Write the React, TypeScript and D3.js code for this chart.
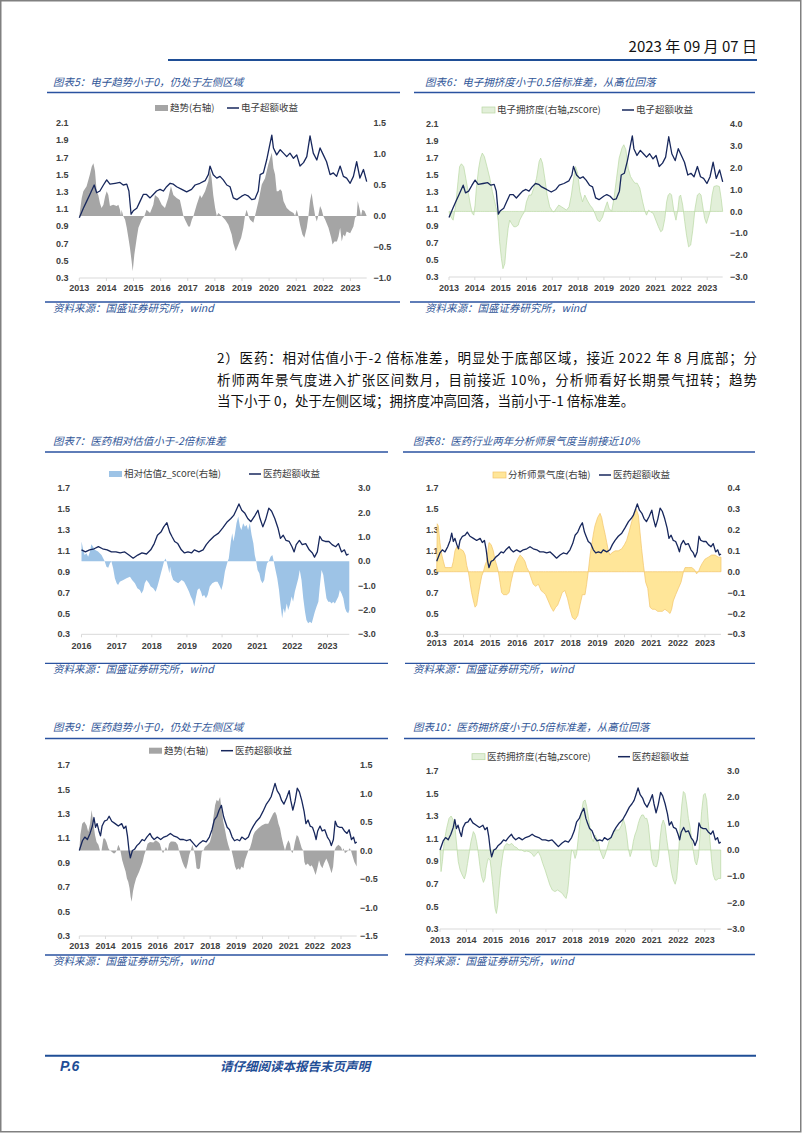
import React from 'react';
import * as d3 from 'd3';

type Pt = [number, number];

// ---------- data (x = decimal year, y = value) ----------
const ELEC_EXCESS: Pt[] = [[2013.00,1.00],[2013.15,1.11],[2013.27,1.19],[2013.39,1.27],[2013.55,1.38],[2013.64,1.29],[2013.76,1.31],[2013.89,1.38],[2014.01,1.44],[2014.13,1.39],[2014.32,1.40],[2014.50,1.41],[2014.62,1.38],[2014.75,1.39],[2014.83,1.31],[2014.91,1.04],[2014.99,1.08],[2015.12,1.11],[2015.24,1.19],[2015.36,1.27],[2015.48,1.27],[2015.61,1.23],[2015.73,1.27],[2015.85,1.31],[2015.98,1.33],[2016.10,1.31],[2016.22,1.36],[2016.35,1.40],[2016.47,1.39],[2016.59,1.36],[2016.78,1.33],[2016.96,1.30],[2017.14,1.33],[2017.27,1.38],[2017.45,1.40],[2017.64,1.43],[2017.76,1.50],[2017.82,1.60],[2017.94,1.50],[2018.07,1.46],[2018.19,1.48],[2018.31,1.44],[2018.44,1.38],[2018.56,1.36],[2018.68,1.23],[2018.81,1.21],[2018.99,1.25],[2019.11,1.27],[2019.24,1.25],[2019.36,1.21],[2019.48,1.22],[2019.60,1.31],[2019.67,1.50],[2019.79,1.52],[2019.91,1.67],[2020.04,1.87],[2020.10,1.96],[2020.16,1.81],[2020.28,1.73],[2020.41,1.79],[2020.53,1.75],[2020.65,1.71],[2020.77,1.75],[2020.90,1.69],[2021.02,1.73],[2021.14,1.60],[2021.27,1.64],[2021.39,1.71],[2021.51,1.95],[2021.63,1.75],[2021.76,1.67],[2021.88,1.81],[2022.00,1.73],[2022.12,1.65],[2022.25,1.50],[2022.37,1.52],[2022.49,1.48],[2022.62,1.60],[2022.74,1.48],[2022.86,1.46],[2022.99,1.40],[2023.11,1.48],[2023.23,1.65],[2023.35,1.46],[2023.48,1.56],[2023.60,1.42]];

const ELEC_TREND: Pt[] = [[2013.00,0],[2013.09,0.29],[2013.15,0.40],[2013.27,0.48],[2013.39,0.67],[2013.46,0.80],[2013.52,0.85],[2013.58,0.72],[2013.64,0.40],[2013.70,0.34],[2013.76,0.21],[2013.82,0.13],[2013.89,0.18],[2013.95,0.31],[2014.01,0.40],[2014.07,0.34],[2014.13,0.16],[2014.25,0.18],[2014.38,0.16],[2014.44,0.18],[2014.50,0.10],[2014.54,0],[2014.56,0.10],[2014.62,0],[2014.69,-0.06],[2014.75,-0.19],[2014.81,-0.35],[2014.87,-0.52],[2014.93,-0.73],[2014.97,-0.89],[2015.03,-0.62],[2015.12,-0.35],[2015.18,-0.19],[2015.30,-0.06],[2015.40,0],[2015.48,0.10],[2015.61,0.05],[2015.73,0.18],[2015.79,0.34],[2015.92,0.29],[2016.04,0.18],[2016.16,0.13],[2016.28,0.29],[2016.38,0.48],[2016.47,0.34],[2016.59,0.29],[2016.71,0.26],[2016.84,0],[2016.90,-0.06],[2017.02,-0.17],[2017.08,-0.17],[2017.15,-0.06],[2017.21,0],[2017.33,0.18],[2017.45,0.34],[2017.51,0.29],[2017.64,0.40],[2017.76,0.56],[2017.82,0.75],[2017.88,0.61],[2017.94,0.34],[2018.01,0.13],[2018.07,0],[2018.13,0.05],[2018.25,0],[2018.38,-0.06],[2018.50,-0.14],[2018.62,-0.30],[2018.68,-0.44],[2018.77,-0.57],[2018.87,-0.46],[2018.97,-0.35],[2019.05,-0.19],[2019.11,0],[2019.17,0.10],[2019.24,0],[2019.30,-0.06],[2019.42,-0.11],[2019.48,0],[2019.61,0.24],[2019.73,0.51],[2019.85,0.61],[2019.97,0.83],[2020.10,1.02],[2020.16,0.77],[2020.22,0.67],[2020.28,0.40],[2020.34,0.40],[2020.41,0.43],[2020.47,0.40],[2020.53,0.24],[2020.65,0.13],[2020.77,0.08],[2020.90,0.05],[2020.96,0],[2021.02,0.10],[2021.08,0],[2021.14,-0.14],[2021.23,-0.30],[2021.30,-0.35],[2021.39,-0.19],[2021.45,0],[2021.51,0.24],[2021.57,0.37],[2021.63,0.18],[2021.70,0],[2021.76,-0.09],[2021.82,0.02],[2021.88,0.16],[2021.94,0.10],[2022.00,0],[2022.07,-0.06],[2022.19,-0.19],[2022.29,-0.35],[2022.34,-0.46],[2022.41,-0.41],[2022.50,-0.41],[2022.56,-0.33],[2022.62,-0.19],[2022.68,-0.41],[2022.74,-0.30],[2022.80,-0.33],[2022.86,-0.25],[2022.99,-0.28],[2023.11,-0.17],[2023.17,-0.03],[2023.23,0],[2023.27,0.24],[2023.33,0.13],[2023.39,0],[2023.44,0.10],[2023.52,0.08],[2023.60,0]];

const ELEC_CROWD: Pt[] = [[2013.00,0],[2013.03,-0.17],[2013.16,-0.40],[2013.26,0.29],[2013.35,1.37],[2013.41,2.05],[2013.48,2.18],[2013.57,2.05],[2013.65,1.52],[2013.74,0.91],[2013.83,0.29],[2013.90,-0.09],[2013.96,-0.17],[2014.01,0.29],[2014.06,1.06],[2014.15,1.98],[2014.22,2.44],[2014.29,2.67],[2014.37,2.51],[2014.47,2.05],[2014.58,1.52],[2014.68,0.91],[2014.77,0.44],[2014.86,0],[2014.91,-0.47],[2014.96,-1.39],[2015.03,-2.16],[2015.09,-2.62],[2015.16,-2.39],[2015.22,-1.54],[2015.29,-0.78],[2015.35,-0.40],[2015.42,-0.55],[2015.51,-0.70],[2015.59,-0.70],[2015.68,-0.63],[2015.74,-0.40],[2015.84,-0.17],[2015.93,0],[2016.00,0.44],[2016.10,0.75],[2016.19,0.75],[2016.28,1.06],[2016.39,1.52],[2016.49,2.28],[2016.55,2.44],[2016.62,2.21],[2016.71,1.52],[2016.80,0.75],[2016.90,0.21],[2017.01,0],[2017.07,-0.02],[2017.16,0.14],[2017.25,0.29],[2017.36,0.21],[2017.45,0.14],[2017.55,0.06],[2017.65,0.21],[2017.74,0.75],[2017.83,1.52],[2017.90,2.05],[2017.98,1.75],[2018.07,0.91],[2018.17,0.44],[2018.26,0.75],[2018.35,0.52],[2018.46,0.29],[2018.56,0.14],[2018.65,-0.09],[2018.75,-0.40],[2018.84,-0.47],[2018.95,-0.25],[2019.04,0.14],[2019.13,0.44],[2019.20,0.14],[2019.30,0],[2019.39,0.60],[2019.49,1.52],[2019.59,2.44],[2019.70,2.90],[2019.77,3.05],[2019.85,2.82],[2019.94,1.98],[2020.03,1.60],[2020.11,1.44],[2020.20,1.29],[2020.29,1.29],[2020.39,1.06],[2020.50,0.44],[2020.59,0],[2020.65,-0.17],[2020.73,0.06],[2020.81,-0.02],[2020.91,-0.09],[2021.01,-0.40],[2021.11,-0.70],[2021.20,-0.93],[2021.27,-0.86],[2021.36,-0.32],[2021.43,0.44],[2021.49,0.75],[2021.56,0.83],[2021.62,0.75],[2021.71,0],[2021.79,-0.40],[2021.86,0.06],[2021.92,0.68],[2021.97,0.75],[2022.05,0.29],[2022.13,-0.47],[2022.20,-1.09],[2022.28,-1.62],[2022.36,-1.54],[2022.44,-0.86],[2022.53,0.14],[2022.62,0.75],[2022.70,0.83],[2022.76,0.75],[2022.82,0.29],[2022.90,-0.32],[2022.97,-0.55],[2023.03,-0.32],[2023.11,0],[2023.19,0.75],[2023.26,1.14],[2023.37,1.18],[2023.47,1.14],[2023.54,0.60],[2023.60,0]];

const MED_EXCESS: Pt[] = [[2013.00,1.00],[2013.12,1.08],[2013.21,1.11],[2013.31,1.09],[2013.41,1.14],[2013.50,1.20],[2013.56,1.27],[2013.62,1.19],[2013.68,1.22],[2013.75,1.16],[2013.81,1.12],[2013.87,1.20],[2013.96,1.24],[2014.06,1.25],[2014.14,1.28],[2014.24,1.24],[2014.37,1.22],[2014.49,1.20],[2014.62,1.22],[2014.70,1.18],[2014.78,1.20],[2014.84,1.12],[2014.90,1.00],[2014.95,0.94],[2015.03,1.00],[2015.11,1.01],[2015.20,1.04],[2015.30,1.06],[2015.40,1.09],[2015.49,1.08],[2015.58,1.11],[2015.70,1.14],[2015.77,1.11],[2015.86,1.09],[2015.98,1.11],[2016.11,1.09],[2016.23,1.11],[2016.36,1.12],[2016.48,1.14],[2016.60,1.12],[2016.73,1.11],[2016.85,1.09],[2016.98,1.09],[2017.10,1.08],[2017.23,1.09],[2017.35,1.06],[2017.47,1.03],[2017.60,1.06],[2017.72,1.08],[2017.85,1.07],[2017.97,1.11],[2018.07,1.17],[2018.16,1.25],[2018.26,1.28],[2018.34,1.33],[2018.43,1.37],[2018.51,1.28],[2018.57,1.24],[2018.65,1.19],[2018.74,1.17],[2018.84,1.11],[2018.93,1.08],[2019.03,1.09],[2019.13,1.08],[2019.21,1.11],[2019.34,1.09],[2019.46,1.11],[2019.55,1.16],[2019.65,1.20],[2019.77,1.24],[2019.90,1.27],[2020.02,1.32],[2020.15,1.38],[2020.25,1.41],[2020.33,1.44],[2020.40,1.49],[2020.48,1.55],[2020.56,1.49],[2020.65,1.46],[2020.73,1.41],[2020.82,1.38],[2020.92,1.43],[2021.02,1.49],[2021.08,1.41],[2021.16,1.33],[2021.24,1.40],[2021.33,1.51],[2021.41,1.48],[2021.50,1.41],[2021.59,1.32],[2021.66,1.22],[2021.74,1.25],[2021.82,1.20],[2021.91,1.19],[2021.99,1.14],[2022.05,1.09],[2022.11,1.16],[2022.20,1.20],[2022.28,1.16],[2022.38,1.17],[2022.48,1.11],[2022.57,1.08],[2022.63,1.04],[2022.71,1.09],[2022.78,1.24],[2022.85,1.20],[2022.94,1.19],[2023.04,1.19],[2023.13,1.16],[2023.23,1.14],[2023.31,1.17],[2023.40,1.09],[2023.48,1.11],[2023.54,1.06],[2023.60,1.07]];

const MED_VALUATION: Pt[] = [[2016.00,0.81],[2016.05,0.47],[2016.09,0.26],[2016.14,0.33],[2016.19,0.19],[2016.24,0.40],[2016.28,0.70],[2016.33,0.60],[2016.38,0.47],[2016.47,0.40],[2016.57,0.26],[2016.62,0.12],[2016.66,0],[2016.71,-0.22],[2016.76,-0.26],[2016.81,-0.08],[2016.85,0],[2016.90,-0.29],[2016.95,-0.70],[2017.00,-0.90],[2017.04,-0.97],[2017.09,-0.84],[2017.19,-0.77],[2017.28,-0.70],[2017.38,-0.63],[2017.44,-0.77],[2017.52,-0.90],[2017.59,-1.11],[2017.66,-1.18],[2017.71,-1.32],[2017.76,-1.18],[2017.80,-0.90],[2017.85,-0.77],[2017.92,-0.90],[2017.97,-1.04],[2018.04,-1.11],[2018.11,-1.25],[2018.16,-1.04],[2018.21,-0.77],[2018.26,-0.49],[2018.31,-0.22],[2018.35,0],[2018.39,0.12],[2018.42,0],[2018.47,-0.29],[2018.50,-0.49],[2018.52,-0.22],[2018.56,-0.56],[2018.61,-0.77],[2018.68,-0.84],[2018.75,-0.90],[2018.85,-0.77],[2018.92,-0.84],[2018.99,-1.04],[2019.06,-1.25],[2019.11,-1.45],[2019.16,-1.59],[2019.21,-1.86],[2019.25,-1.52],[2019.30,-1.18],[2019.35,-1.11],[2019.40,-1.25],[2019.44,-1.45],[2019.49,-1.38],[2019.54,-1.52],[2019.59,-1.38],[2019.65,-1.04],[2019.72,-0.90],[2019.80,-0.84],[2019.87,-0.84],[2019.94,-1.04],[2019.98,-1.18],[2020.03,-0.90],[2020.08,-0.42],[2020.13,-0.15],[2020.16,0],[2020.19,0.12],[2020.25,0.81],[2020.29,1.15],[2020.32,0.81],[2020.36,1.08],[2020.41,1.56],[2020.46,1.84],[2020.51,1.42],[2020.55,1.29],[2020.60,1.56],[2020.65,1.42],[2020.70,1.49],[2020.74,1.29],[2020.79,1.56],[2020.84,1.08],[2020.89,0.74],[2020.93,0.26],[2020.97,0],[2021.01,-0.36],[2021.06,-0.49],[2021.10,-0.77],[2021.15,-0.90],[2021.20,-0.77],[2021.24,-0.36],[2021.28,-0.08],[2021.33,0],[2021.38,0.19],[2021.43,0.26],[2021.47,0],[2021.52,-0.36],[2021.57,-0.70],[2021.62,-1.18],[2021.66,-1.73],[2021.71,-2.34],[2021.75,-1.93],[2021.79,-2.14],[2021.84,-1.73],[2021.88,-2.00],[2021.93,-1.79],[2021.98,-1.45],[2022.02,-1.66],[2022.07,-1.25],[2022.12,-0.97],[2022.17,-0.70],[2022.21,-0.36],[2022.26,-0.77],[2022.31,-1.52],[2022.36,-2.07],[2022.40,-2.41],[2022.45,-2.55],[2022.50,-2.48],[2022.55,-2.55],[2022.59,-2.34],[2022.64,-2.07],[2022.69,-1.86],[2022.74,-1.66],[2022.78,-1.04],[2022.83,-0.36],[2022.88,-0.56],[2022.93,-1.11],[2022.97,-1.52],[2023.02,-1.66],[2023.07,-1.66],[2023.12,-1.73],[2023.16,-1.66],[2023.21,-1.73],[2023.26,-1.59],[2023.31,-1.45],[2023.35,-1.18],[2023.40,-1.32],[2023.45,-1.52],[2023.50,-1.93],[2023.54,-2.07],[2023.59,-2.14],[2023.62,-2.00]];

const MED_SENTIMENT: Pt[] = [[2013.00,0],[2013.02,0.23],[2013.06,0.22],[2013.12,0.14],[2013.19,0.08],[2013.25,0.05],[2013.31,0.02],[2013.43,0.02],[2013.56,0.02],[2013.62,0.05],[2013.68,0.10],[2013.75,0.12],[2013.87,0.11],[2013.99,0.10],[2014.06,0.08],[2014.12,0.03],[2014.18,0],[2014.24,-0.05],[2014.30,-0.10],[2014.37,-0.14],[2014.43,-0.17],[2014.49,-0.16],[2014.55,-0.11],[2014.62,-0.06],[2014.68,-0.02],[2014.74,0],[2014.80,0.03],[2014.86,0.05],[2014.95,0.14],[2015.03,0.13],[2015.11,0.10],[2015.17,0.06],[2015.24,0.03],[2015.30,0],[2015.36,-0.05],[2015.42,-0.10],[2015.49,-0.11],[2015.61,-0.11],[2015.70,-0.10],[2015.77,-0.05],[2015.86,0],[2015.92,0.03],[2016.02,0.06],[2016.11,0.08],[2016.19,0.07],[2016.29,0.05],[2016.36,0.02],[2016.44,0],[2016.52,-0.03],[2016.60,-0.06],[2016.69,-0.07],[2016.79,-0.06],[2016.89,-0.09],[2016.98,-0.10],[2017.06,-0.11],[2017.16,-0.14],[2017.26,-0.17],[2017.35,-0.19],[2017.44,-0.17],[2017.51,-0.16],[2017.60,-0.13],[2017.68,-0.10],[2017.78,-0.09],[2017.88,-0.13],[2017.97,-0.18],[2018.06,-0.22],[2018.16,-0.23],[2018.26,-0.21],[2018.34,-0.16],[2018.43,-0.11],[2018.53,-0.11],[2018.59,-0.06],[2018.65,0],[2018.72,0.08],[2018.78,0.13],[2018.84,0.18],[2018.90,0.22],[2019.00,0.26],[2019.09,0.28],[2019.15,0.26],[2019.21,0.22],[2019.28,0.18],[2019.34,0.14],[2019.40,0.10],[2019.46,0.08],[2019.52,0.09],[2019.65,0.10],[2019.77,0.10],[2019.90,0.11],[2020.00,0.13],[2020.08,0.15],[2020.17,0.19],[2020.27,0.24],[2020.37,0.28],[2020.44,0.30],[2020.52,0.27],[2020.58,0.19],[2020.64,0.11],[2020.71,0.03],[2020.74,0],[2020.79,-0.05],[2020.87,-0.08],[2020.95,-0.17],[2021.04,-0.18],[2021.14,-0.18],[2021.24,-0.19],[2021.33,-0.19],[2021.41,-0.19],[2021.51,-0.18],[2021.61,-0.19],[2021.70,-0.20],[2021.76,-0.18],[2021.82,-0.14],[2021.91,-0.11],[2022.01,-0.08],[2022.11,-0.05],[2022.20,0],[2022.26,0.02],[2022.38,0.02],[2022.51,0.02],[2022.61,0.01],[2022.69,-0.01],[2022.76,0],[2022.82,0.02],[2022.90,0.04],[2023.00,0.06],[2023.13,0.07],[2023.25,0.08],[2023.38,0.08],[2023.50,0.07],[2023.60,0.07]];

const MED_TREND: Pt[] = [[2013.00,0],[2013.04,0.27],[2013.11,0.47],[2013.19,0.51],[2013.28,0.44],[2013.34,0.33],[2013.41,0.47],[2013.47,0.71],[2013.54,0.47],[2013.60,0.27],[2013.66,0.15],[2013.73,0.10],[2013.79,0],[2013.85,0],[2013.92,0.21],[2013.98,0.21],[2014.04,0.15],[2014.11,0.04],[2014.17,0],[2014.24,-0.02],[2014.30,-0.05],[2014.36,-0.05],[2014.43,0],[2014.49,0.10],[2014.55,0.04],[2014.59,-0.05],[2014.64,-0.17],[2014.71,-0.28],[2014.77,-0.37],[2014.82,-0.49],[2014.87,-0.55],[2014.92,-0.66],[2014.96,-0.81],[2015.00,-0.90],[2015.05,-0.72],[2015.10,-0.61],[2015.17,-0.49],[2015.23,-0.43],[2015.29,-0.37],[2015.36,-0.28],[2015.42,-0.20],[2015.48,-0.08],[2015.54,0],[2015.61,0.12],[2015.70,0.15],[2015.83,0.14],[2015.92,0.18],[2016.02,0.15],[2016.08,0.12],[2016.15,0],[2016.20,-0.05],[2016.25,0],[2016.31,0.06],[2016.38,0],[2016.43,0.12],[2016.50,0.16],[2016.59,0.16],[2016.68,0.15],[2016.76,0.10],[2016.81,0],[2016.86,-0.08],[2016.94,-0.20],[2017.01,-0.28],[2017.08,-0.33],[2017.14,-0.23],[2017.20,-0.08],[2017.26,0],[2017.32,0.10],[2017.38,0],[2017.42,-0.08],[2017.48,-0.31],[2017.55,-0.33],[2017.61,-0.31],[2017.68,-0.02],[2017.74,0],[2017.80,0.06],[2017.90,0.10],[2017.99,0.15],[2018.06,0.27],[2018.12,0.56],[2018.19,0.80],[2018.25,0.89],[2018.31,0.86],[2018.38,0.94],[2018.44,0.71],[2018.50,0.51],[2018.57,0.36],[2018.63,0.21],[2018.69,0.10],[2018.76,0],[2018.82,0],[2018.89,-0.14],[2018.95,-0.28],[2019.01,-0.34],[2019.08,-0.31],[2019.14,-0.34],[2019.20,-0.28],[2019.27,-0.31],[2019.33,-0.17],[2019.40,-0.08],[2019.46,0],[2019.52,0.04],[2019.59,0.15],[2019.65,0.27],[2019.71,0.33],[2019.84,0.39],[2019.97,0.44],[2020.10,0.47],[2020.22,0.47],[2020.35,0.59],[2020.41,0.65],[2020.48,0.68],[2020.54,0.62],[2020.61,0.47],[2020.67,0.39],[2020.73,0.24],[2020.80,0.10],[2020.86,0],[2020.92,0.10],[2020.99,0.18],[2021.05,0.12],[2021.09,0],[2021.14,-0.05],[2021.18,0],[2021.24,0.15],[2021.31,0.27],[2021.37,0.24],[2021.43,0.15],[2021.50,0.04],[2021.56,0],[2021.60,-0.20],[2021.65,-0.26],[2021.73,-0.23],[2021.82,-0.28],[2021.88,-0.26],[2021.94,-0.31],[2022.03,-0.43],[2022.11,-0.28],[2022.16,-0.17],[2022.22,-0.26],[2022.29,-0.31],[2022.35,-0.23],[2022.44,-0.14],[2022.52,-0.23],[2022.58,-0.31],[2022.64,-0.40],[2022.70,-0.28],[2022.75,0],[2022.81,0.06],[2022.90,0.10],[2023.00,0.06],[2023.05,0],[2023.10,0.04],[2023.15,-0.05],[2023.22,-0.02],[2023.28,0],[2023.33,0.04],[2023.38,0],[2023.43,-0.08],[2023.51,-0.20],[2023.60,-0.28]];

const MED_CROWD: Pt[] = [[2013.00,0],[2013.04,-0.82],[2013.09,-0.44],[2013.16,0.32],[2013.25,0.82],[2013.34,1.20],[2013.42,1.29],[2013.50,1.14],[2013.57,0.82],[2013.63,0.19],[2013.69,-0.44],[2013.76,-0.76],[2013.84,-0.95],[2013.92,-1.10],[2013.98,-0.89],[2014.04,-0.51],[2014.11,-0.06],[2014.17,0.32],[2014.26,0.70],[2014.32,0.59],[2014.38,0.32],[2014.45,-0.13],[2014.51,-0.63],[2014.57,-1.01],[2014.64,-1.23],[2014.70,-1.08],[2014.74,-0.70],[2014.79,-0.44],[2014.83,-0.32],[2014.89,-0.38],[2014.93,-0.70],[2014.98,-1.20],[2015.03,-1.71],[2015.08,-2.22],[2015.13,-2.41],[2015.18,-2.09],[2015.24,-1.33],[2015.30,-0.70],[2015.37,-0.19],[2015.43,0.13],[2015.52,0.25],[2015.61,0.19],[2015.71,0.25],[2015.81,0.13],[2015.90,0.09],[2015.98,0],[2016.08,0],[2016.19,-0.06],[2016.27,-0.04],[2016.36,-0.06],[2016.46,-0.13],[2016.55,-0.25],[2016.63,-0.16],[2016.71,-0.06],[2016.80,-0.25],[2016.88,-0.51],[2016.97,-0.76],[2017.07,-1.08],[2017.15,-1.33],[2017.24,-1.52],[2017.34,-1.58],[2017.44,-1.52],[2017.53,-1.58],[2017.62,-1.65],[2017.70,-1.77],[2017.76,-1.84],[2017.82,-1.58],[2017.87,-1.08],[2017.92,-0.44],[2017.97,0],[2018.04,-0.06],[2018.10,-0.32],[2018.16,-0.13],[2018.22,0.44],[2018.29,1.08],[2018.35,1.46],[2018.41,1.84],[2018.48,1.90],[2018.54,1.65],[2018.60,1.27],[2018.67,0.82],[2018.73,0.44],[2018.79,0.32],[2018.85,0.57],[2018.92,0.44],[2018.98,0.32],[2019.04,0],[2019.11,-0.19],[2019.17,-0.34],[2019.23,-0.19],[2019.29,0],[2019.38,0.32],[2019.48,0.51],[2019.58,0.70],[2019.67,0.76],[2019.76,0.76],[2019.86,0.95],[2019.92,1.17],[2019.99,0.95],[2020.05,0.57],[2020.11,0.06],[2020.18,-0.25],[2020.24,-0.06],[2020.30,0.32],[2020.36,0.57],[2020.43,0.76],[2020.49,1.01],[2020.55,1.20],[2020.62,1.33],[2020.68,1.33],[2020.74,1.20],[2020.81,1.20],[2020.87,0.95],[2020.93,0.32],[2020.99,-0.32],[2021.06,-0.57],[2021.12,-0.63],[2021.18,-0.63],[2021.25,-0.32],[2021.31,0.44],[2021.37,0.95],[2021.43,1.14],[2021.50,0.95],[2021.56,0.44],[2021.62,0],[2021.69,-0.51],[2021.75,-0.89],[2021.81,-1.14],[2021.88,-1.30],[2021.94,-1.08],[2022.00,-0.32],[2022.06,0.82],[2022.13,1.71],[2022.19,2.22],[2022.25,2.15],[2022.32,1.71],[2022.38,1.20],[2022.44,0.89],[2022.50,0.44],[2022.57,-0.06],[2022.63,-0.44],[2022.69,-0.57],[2022.76,-0.25],[2022.82,0.57],[2022.88,1.46],[2022.95,2.09],[2023.01,2.15],[2023.07,1.90],[2023.13,1.08],[2023.20,0.32],[2023.26,-0.44],[2023.32,-0.95],[2023.39,-1.14],[2023.45,-1.14],[2023.51,-1.08],[2023.57,-1.08],[2023.60,-1.08]];

// ---------- ticks ----------
const YEARS_FROM_2013 = [2013, 2014, 2015, 2016, 2017, 2018, 2019, 2020, 2021, 2022, 2023];
const YEARS_FROM_2016 = [2016, 2017, 2018, 2019, 2020, 2021, 2022, 2023];
const LEFT_TICKS_ELEC = [0.3, 0.5, 0.7, 0.9, 1.1, 1.3, 1.5, 1.7, 1.9, 2.1];
const LEFT_TICKS_MED = [0.3, 0.5, 0.7, 0.9, 1.1, 1.3, 1.5, 1.7];
const RIGHT_TICKS_5 = [-1.0, -0.5, 0.0, 0.5, 1.0, 1.5];
const RIGHT_TICKS_6 = [-3, -2, -1, 0, 1, 2, 3, 4];
const RIGHT_TICKS_7 = [-3, -2, -1, 0, 1, 2, 3];
const RIGHT_TICKS_8 = [-0.3, -0.2, -0.1, 0.0, 0.1, 0.2, 0.3, 0.4];
const RIGHT_TICKS_9 = [-1.5, -1.0, -0.5, 0.0, 0.5, 1.0, 1.5];
const RIGHT_TICKS_10 = [-3, -2, -1, 0, 1, 2, 3];

const TITLES = [
  '图表5：电子趋势小于0，仍处于左侧区域',
  '图表6：电子拥挤度小于0.5倍标准差，从高位回落',
  '图表7：医药相对估值小于-2倍标准差',
  '图表8：医药行业两年分析师景气度当前接近10%',
  '图表9：医药趋势小于0，仍处于左侧区域',
  '图表10：医药拥挤度小于0.5倍标准差，从高位回落',
];
const SOURCE = '资料来源：国盛证券研究所，wind';
const PARAGRAPH = [
  '2）医药：相对估值小于-2 倍标准差，明显处于底部区域，接近 2022 年 8 月底部；分',
  '析师两年景气度进入扩张区间数月，目前接近 10%，分析师看好长期景气扭转；趋势',
  '当下小于 0，处于左侧区域；拥挤度冲高回落，当前小于-1 倍标准差。',
];

const NAVY = '#17275c';
const BLUE = '#2f5597';
const RULE = '#2a52a0';
const LABEL = '#404040';
const CJK = '"Noto Sans CJK SC", "Noto Sans", sans-serif';
const NUM = '"Liberation Sans", Arial, sans-serif';

type AreaStyle = { fill: string; stroke?: string };

type ChartProps = {
  px: [number, number];
  py: [number, number]; // top, bottom
  xDomain: [number, number];
  years: number[];
  leftDomain: [number, number];
  leftTicks: number[];
  rightDomain: [number, number];
  rightTicks: number[];
  leftLabelX: number;
  rightLabelX: number;
  axisLabelY: number;
  area: Pt[];
  areaStyle: AreaStyle;
  line: Pt[];
  legendY: number;
  legendArea: [number, string];
  legendLine: [number, string];
};

function Chart(p: ChartProps) {
  const x = d3.scaleLinear().domain(p.xDomain).range(p.px).clamp(true);
  const yl = d3.scaleLinear().domain(p.leftDomain).range([p.py[1], p.py[0]]);
  const yr = d3.scaleLinear().domain(p.rightDomain).range([p.py[1], p.py[0]]);
  const f = d3.format('.1f');
  const areaGen = d3.area<Pt>().x((d) => x(d[0])).y0(yr(0)).y1((d) => yr(d[1]));
  const lineGen = d3.line<Pt>().x((d) => x(d[0])).y((d) => yl(d[1]));
  const lineData = p.line.filter((d) => d[0] >= p.xDomain[0] - 0.05);
  const axisY = p.py[1];
  return (
    <g>
      {/* x axis */}
      <line x1={p.px[0]} x2={p.px[1]} y1={axisY} y2={axisY} stroke="#d9d9d9" strokeWidth={1} />
      {p.years.map((yy) => (
        <g key={yy}>
          <line x1={x(yy)} x2={x(yy)} y1={axisY} y2={axisY + 3} stroke="#d9d9d9" strokeWidth={1} />
          <text x={x(yy)} y={p.axisLabelY} dy="0.35em" textAnchor="middle" fontFamily={NUM} fontWeight="bold" fontSize={9} fill={LABEL}>
            {yy}
          </text>
        </g>
      ))}
      {p.leftTicks.map((t) => (
        <text key={'l' + t} x={p.leftLabelX} y={yl(t)} dy="0.35em" textAnchor="end" fontFamily={NUM} fontWeight="bold" fontSize={9} fill={LABEL}>
          {f(t)}
        </text>
      ))}
      {p.rightTicks.map((t) => (
        <text key={'r' + t} x={p.rightLabelX} y={yr(t)} dy="0.35em" textAnchor="start" fontFamily={NUM} fontWeight="bold" fontSize={9} fill={LABEL}>
          {f(t)}
        </text>
      ))}
      <path d={areaGen(p.area) || ''} fill={p.areaStyle.fill} stroke={p.areaStyle.stroke || 'none'} strokeWidth={0.7} />
      <path d={lineGen(lineData) || ''} fill="none" stroke={NAVY} strokeWidth={1.3} strokeLinejoin="round" />
      {/* legend */}
      <rect x={p.legendArea[0]} y={p.legendY - 3} width={13} height={6} fill={p.areaStyle.fill} stroke={p.areaStyle.stroke || 'none'} strokeWidth={0.7} />
      <text x={p.legendArea[0] + 15} y={p.legendY} dy="0.35em" fontFamily={CJK} fontSize={9.5} fill={LABEL}>
        {p.legendArea[1]}
      </text>
      <line x1={p.legendLine[0]} x2={p.legendLine[0] + 12} y1={p.legendY} y2={p.legendY} stroke={NAVY} strokeWidth={1.5} />
      <text x={p.legendLine[0] + 14} y={p.legendY} dy="0.35em" fontFamily={CJK} fontSize={9.5} fill={LABEL}>
        {p.legendLine[1]}
      </text>
    </g>
  );
}

function Frame({ title, tx, ty, rule, src }: { title: string; tx: number; ty: number; rule: [number, number, number]; src: [number, number, number, number] }) {
  return (
    <g>
      <text x={tx} y={ty} fontFamily={CJK} fontStyle="italic" fontSize={10.5} fill={BLUE}>
        {title}
      </text>
      <line x1={rule[0]} x2={rule[1]} y1={rule[2]} y2={rule[2]} stroke={RULE} strokeWidth={1.6} />
      <line x1={src[0]} x2={src[1]} y1={src[2]} y2={src[2]} stroke={RULE} strokeWidth={1.3} />
      <text x={src[3]} y={src[2] + 10} fontFamily={CJK} fontStyle="italic" fontSize={10.5} fill={BLUE}>
        {SOURCE}
      </text>
    </g>
  );
}

export default function App() {
  return (
    <svg width={802} height={1133} style={{ position: 'absolute', left: 0, top: 0, background: '#fff' }}>
      <rect x={0.75} y={0.75} width={800} height={1131} fill="#fff" stroke="#808080" strokeWidth={1.5} />
      {/* header */}
      <text x={757} y={52} textAnchor="end" fontFamily={CJK} fontSize={15} fill="#111">2023 年 09 月 07 日</text>
      <line x1={168} x2={757} y1={60} y2={60} stroke="#1f4e96" strokeWidth={2} />

      {/* Row 1 */}
      <Frame title={TITLES[0]} tx={53} ty={86} rule={[47, 400, 92.5]} src={[45, 400, 302, 53]} />
      <Frame title={TITLES[1]} tx={425} ty={86} rule={[414, 755, 92.5]} src={[410, 755, 302, 425]} />
      <Chart
        px={[79.3, 366.7]} py={[123, 278]} xDomain={[2013, 2023.6]} years={YEARS_FROM_2013}
        leftDomain={[0.3, 2.1]} leftTicks={LEFT_TICKS_ELEC} rightDomain={[-1.0, 1.5]} rightTicks={RIGHT_TICKS_5}
        leftLabelX={68.5} rightLabelX={373.5} axisLabelY={288}
        area={ELEC_TREND} areaStyle={{ fill: '#a5a5a5' }} line={ELEC_EXCESS}
        legendY={108} legendArea={[155, '趋势(右轴)']} legendLine={[227, '电子超额收益']}
      />
      <Chart
        px={[449, 722.7]} py={[124, 277]} xDomain={[2013, 2023.6]} years={YEARS_FROM_2013}
        leftDomain={[0.3, 2.1]} leftTicks={LEFT_TICKS_ELEC} rightDomain={[-3, 4]} rightTicks={RIGHT_TICKS_6}
        leftLabelX={438.5} rightLabelX={730} axisLabelY={287.7}
        area={ELEC_CROWD} areaStyle={{ fill: '#e2efd9', stroke: '#b9d8a4' }} line={ELEC_EXCESS}
        legendY={110} legendArea={[482, '电子拥挤度(右轴,zscore)']} legendLine={[622, '电子超额收益']}
      />

      {/* paragraph */}
      {PARAGRAPH.map((s, i) => (
        <text key={i} x={217} y={363 + i * 21.5} fontFamily={CJK} fontSize={13.5} fill="#111"
          {...(i < 2 ? { textLength: 540, lengthAdjust: 'spacing' } : {})}>
          {s}
        </text>
      ))}

      {/* Row 2 */}
      <Frame title={TITLES[2]} tx={53} ty={445} rule={[45, 388, 452]} src={[45, 388, 663.3, 53]} />
      <Frame title={TITLES[3]} tx={413} ty={445} rule={[403, 755, 452]} src={[405, 755, 663.3, 413]} />
      <Chart
        px={[81.5, 349.3]} py={[488.3, 634.3]} xDomain={[2016, 2023.62]} years={YEARS_FROM_2016}
        leftDomain={[0.3, 1.7]} leftTicks={LEFT_TICKS_MED} rightDomain={[-3, 3]} rightTicks={RIGHT_TICKS_7}
        leftLabelX={70} rightLabelX={358} axisLabelY={645.7}
        area={MED_VALUATION} areaStyle={{ fill: '#9dc3e6' }} line={MED_EXCESS}
        legendY={474} legendArea={[109, '相对估值z_score(右轴)']} legendLine={[249, '医药超额收益']}
      />
      <Chart
        px={[436.7, 721]} py={[488.3, 634.3]} xDomain={[2013, 2023.6]} years={YEARS_FROM_2013}
        leftDomain={[0.3, 1.7]} leftTicks={LEFT_TICKS_MED} rightDomain={[-0.3, 0.4]} rightTicks={RIGHT_TICKS_8}
        leftLabelX={438.5 - 0} rightLabelX={727.5} axisLabelY={642.7}
        area={MED_SENTIMENT} areaStyle={{ fill: '#ffe699', stroke: '#f2c46a' }} line={MED_EXCESS}
        legendY={475} legendArea={[493, '分析师景气度(右轴)']} legendLine={[599, '医药超额收益']}
      />

      {/* Row 3 */}
      <Frame title={TITLES[4]} tx={53} ty={731} rule={[45, 388, 738.5]} src={[45, 388, 955, 53]} />
      <Frame title={TITLES[5]} tx={413} ty={731} rule={[404, 755, 738.5]} src={[405, 755, 954.5, 413]} />
      <Chart
        px={[79.3, 356.7]} py={[765, 936]} xDomain={[2013, 2023.6]} years={YEARS_FROM_2013}
        leftDomain={[0.3, 1.7]} leftTicks={LEFT_TICKS_MED} rightDomain={[-1.5, 1.5]} rightTicks={RIGHT_TICKS_9}
        leftLabelX={70} rightLabelX={360} axisLabelY={945.7}
        area={MED_TREND} areaStyle={{ fill: '#a5a5a5' }} line={MED_EXCESS}
        legendY={750.7} legendArea={[149, '趋势(右轴)']} legendLine={[221, '医药超额收益']}
      />
      <Chart
        px={[440, 720.7]} py={[771, 929]} xDomain={[2013, 2023.6]} years={YEARS_FROM_2013}
        leftDomain={[0.3, 1.7]} leftTicks={LEFT_TICKS_MED} rightDomain={[-3, 3]} rightTicks={RIGHT_TICKS_10}
        leftLabelX={438.5} rightLabelX={727} axisLabelY={940}
        area={MED_CROWD} areaStyle={{ fill: '#e2efd9', stroke: '#b9d8a4' }} line={MED_EXCESS}
        legendY={756.7} legendArea={[472, '医药拥挤度(右轴,zscore)']} legendLine={[618, '医药超额收益']}
      />

      {/* footer */}
      <line x1={45} x2={756} y1={1055.7} y2={1055.7} stroke="#1f4e96" strokeWidth={2} />
      <text x={60} y={1071} fontFamily={NUM} fontStyle="italic" fontWeight="bold" fontSize={14} fill="#1f4e96">P.6</text>
      <text x={220} y={1071} fontFamily={CJK} fontStyle="italic" fontWeight="bold" fontSize={12.5} fill="#1f4e96">请仔细阅读本报告末页声明</text>
    </svg>
  );
}
